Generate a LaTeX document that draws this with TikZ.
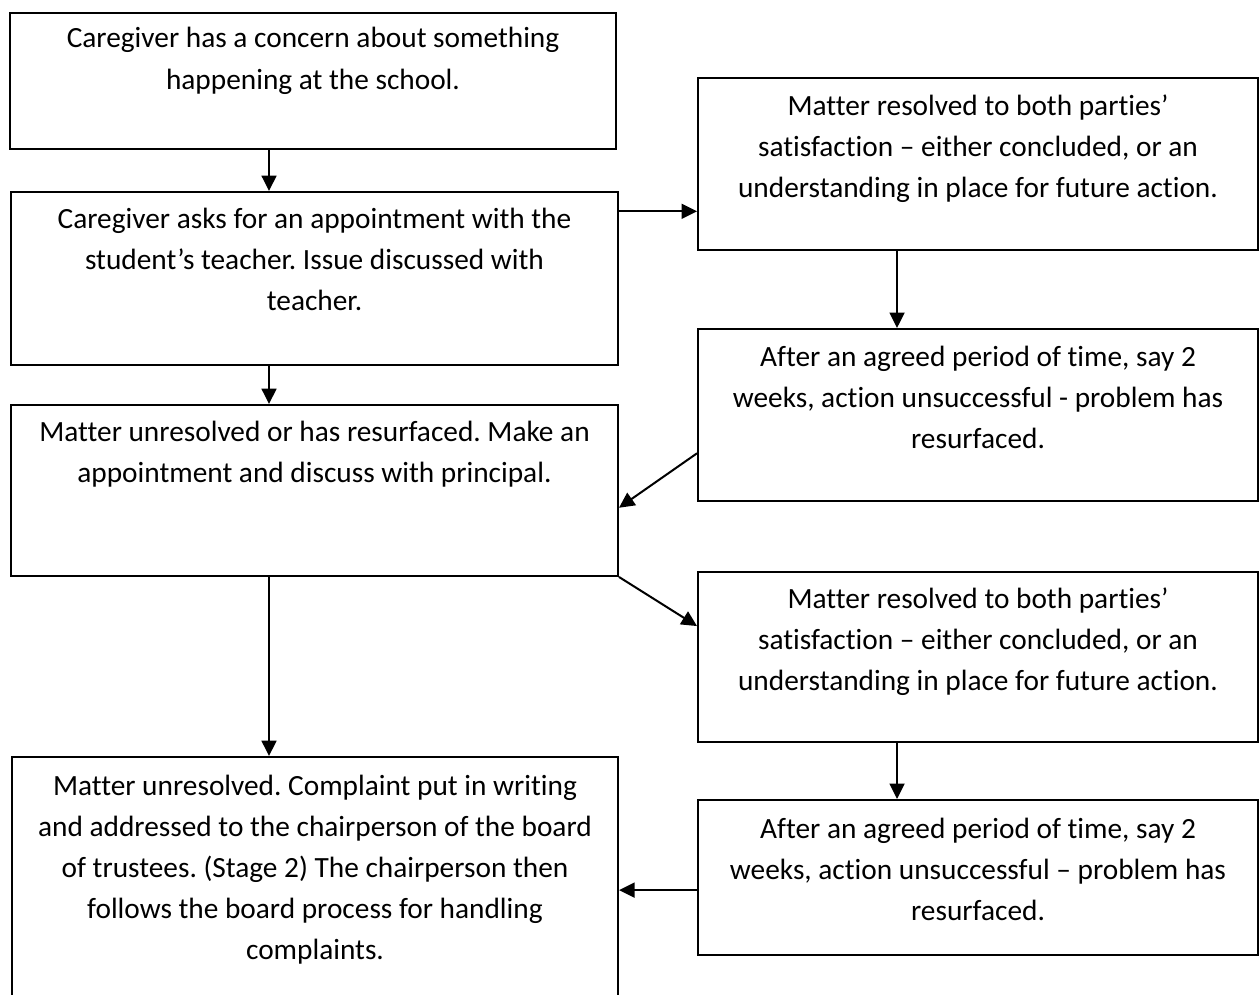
\documentclass[tikz,border=0pt]{standalone}
\usepackage{fontspec}
\setmainfont{Carlito}[Ligatures=NoCommon]
\usetikzlibrary{calc, arrows.meta}

\begin{document}
\begin{tikzpicture}[%
    x=0.375pt, y=-0.375pt,
    flowbox/.style = {draw, line width=0.75pt, anchor=north, inner sep=0pt,
        align=flush center, minimum width=#1, text width=#1,
        font=\fontsize{11}{15.4}\selectfont\frenchspacing},
    every edge/.style = {draw, line width=0.75pt, -{Triangle[length=5.8pt, width=5.6pt]}}
]
\useasboundingbox (0,0) rectangle (1260,994);

% left column
\node (care) [flowbox=227.3pt, text height=13.1pt, text depth=37.9pt] at (313,12)
    {Caregiver has a concern about something\\ happening at the school.};
\node (teacher) [flowbox=227.6pt, text height=13.5pt, text depth=51.4pt] at (314.5,191)
    {Caregiver asks for an appointment with the\\ student’s teacher. Issue discussed with\\ teacher.};
\node (principal) [flowbox=227.6pt, text height=13.5pt, text depth=50.6pt] at (314.5,404)
    {Matter unresolved or has resurfaced. Make an\\ appointment and discuss with principal.};
\node (board) [flowbox=227.3pt, text height=14.25pt, text depth=81pt] at (315,756)
    {Matter unresolved. Complaint put in writing\\ and addressed to the chairperson of the board\\
     of trustees. (Stage 2) The chairperson then\\ follows the board process for handling\\ complaints.};

% right column
\node (resolvedA) [flowbox=210pt, text height=13.9pt, text depth=50.6pt] at (978,77)
    {Matter resolved to both parties’\\ satisfaction – either concluded, or an\\ understanding in place for future action.};
\node (failedA) [flowbox=210pt, text height=13.9pt, text depth=50.6pt] at (978,328)
    {After an agreed period of time, say 2\\ weeks, action unsuccessful - problem has\\ resurfaced.};
\node (resolvedB) [flowbox=210pt, text height=13.5pt, text depth=50.25pt] at (978,571)
    {Matter resolved to both parties’\\ satisfaction – either concluded, or an\\ understanding in place for future action.};
\node (failedB) [flowbox=210pt, text height=14.25pt, text depth=43.9pt] at (978,799)
    {After an agreed period of time, say 2\\ weeks, action unsuccessful – problem has\\ resurfaced.};

\coordinate (lcol) at (269,0);
\coordinate (rcol) at (897,0);
\coordinate (t1) at ($(teacher.north east)!0.116!(teacher.south east)$);
\coordinate (t4) at ($(failedB.north west)!0.58!(failedB.south west)$);

\path
    (care.south -| lcol) edge (teacher.north -| lcol)
    (teacher.south -| lcol) edge (principal.north -| lcol)
    (principal.south -| lcol) edge (board.north -| lcol)
    (t1) edge (t1 -| resolvedA.west)
    (resolvedA.south -| rcol) edge (failedA.north -| rcol)
    ($(failedA.north west)!0.72!(failedA.south west)$)
        edge ($(principal.north east)!0.6!(principal.south east)$)
    (principal.south east) edge ($(resolvedB.north west)!0.32!(resolvedB.south west)$)
    (resolvedB.south -| rcol) edge (failedB.north -| rcol)
    (t4) edge (t4 -| board.east)
    ;
\end{tikzpicture}
\end{document}
